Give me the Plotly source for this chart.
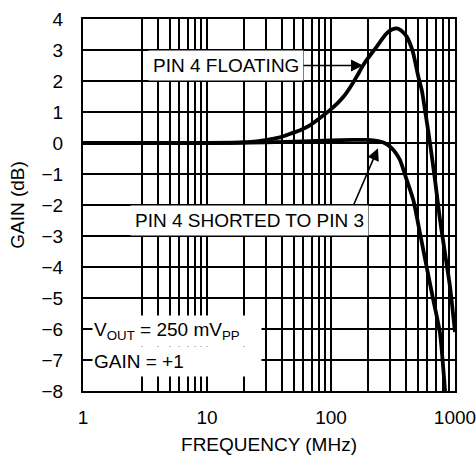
import plotly.graph_objects as go

# ---- data ----
freq_floating = [1, 10, 18, 25, 32, 40, 47, 57, 68, 80, 98, 112, 126, 143, 161, 180, 194,
                 215, 234, 258, 281, 310, 339, 370, 408, 434, 461, 506, 540, 573, 610, 649,
                 690, 757, 830, 911, 1000]
gain_floating = [0, 0, 0.01, 0.05, 0.12, 0.2, 0.3, 0.42, 0.58, 0.78, 1.06, 1.27, 1.49, 1.8,
                 2.14, 2.48, 2.68, 2.92, 3.11, 3.35, 3.54, 3.66, 3.70, 3.62, 3.43, 3.2, 2.89,
                 2.14, 1.7, 1.06, 0.35, -0.4, -1.19, -2.48, -3.55, -4.63, -6.1]

freq_shorted = [1, 10, 30, 60, 100, 150, 200, 240, 270, 300, 330, 360, 408, 461, 522, 590,
                668, 757, 830, 845]
gain_shorted = [0, 0, 0.02, 0.05, 0.08, 0.1, 0.1, 0.06, 0, -0.12, -0.3, -0.55, -1.19, -1.84,
                -2.91, -3.99, -5.06, -6.14, -7.97, -8.4]

x_label_vals = [1, 10, 100, 1000]
x_label_text = ["1", "10", "100", "1000"]
y_tick_vals = list(range(-8, 5))

FONT = "Liberation Sans, Arial, sans-serif"
FS = 19

# minor grid positions (no line at 2 in first decade)
minor_vals = list(range(3, 10)) + list(range(20, 100, 10)) + list(range(200, 1000, 100))

fig = go.Figure()
fig.add_trace(go.Scatter(x=freq_shorted, y=gain_shorted, mode="lines",
                         line=dict(color="black", width=3.8, shape="spline", smoothing=0.6),
                         showlegend=False))
fig.add_trace(go.Scatter(x=freq_floating, y=gain_floating, mode="lines",
                         line=dict(color="black", width=3.8, shape="spline", smoothing=0.6),
                         showlegend=False))

annos = [
    # label with its arrow (arrow leaves the right edge of the white box)
    dict(x=2.258, y=2.5, ax=1.153, ay=2.5, axref="x", ayref="y",
         text="PIN 4 FLOATING", showarrow=True, bgcolor="white", borderpad=4,
         font=dict(size=FS), arrowhead=2, arrowsize=1.5, arrowwidth=1.6, arrowcolor="black"),
    dict(x=1.343, y=-2.5, text="PIN 4 SHORTED TO PIN 3", showarrow=False, bgcolor="white",
         borderpad=4, font=dict(size=FS)),
    dict(x=0.07, y=-6.05, xanchor="left", text="V<sub>OUT</sub> = 250 mV<sub>PP</sub>",
         showarrow=False, bgcolor="white", width=166, height=28, align="left", borderpad=1,
         font=dict(size=FS)),
    dict(x=0.07, y=-7.0, xanchor="left", text="GAIN = +1", yshift=-1,
         showarrow=False, bgcolor="white", width=166, height=27, align="left", borderpad=1,
         font=dict(size=FS)),
    # arrow for the shorted label
    dict(x=2.379, y=-0.17, ax=2.177, ay=-2.05, axref="x", ayref="y", text="", showarrow=True,
         arrowhead=2, arrowsize=1.5, arrowwidth=1.6, arrowcolor="black"),
]
for a in annos:
    a.setdefault("xref", "x")
    a.setdefault("yref", "y")
fig.update_layout(annotations=annos)

fig.update_layout(
    width=476, height=455,
    margin=dict(l=83, r=21, t=19, b=64, autoexpand=False),
    paper_bgcolor="white", plot_bgcolor="white",
    font=dict(family=FONT, size=FS, color="black"),
    showlegend=False,
)
fig.update_xaxes(type="log", range=[0, 3], tickmode="array", tickvals=x_label_vals,
                 ticktext=x_label_text, showgrid=True, gridcolor="black", gridwidth=1.6,
                 minor=dict(tickmode="array", tickvals=minor_vals, showgrid=True,
                            gridcolor="black", gridwidth=1.6, ticks=""),
                 showline=True, linecolor="black", linewidth=2, mirror=True,
                 ticks="", ticklabelstandoff=8, automargin=True, ticklabeloverflow="allow",
                 title=dict(text="FREQUENCY (MHz)", standoff=14, font=dict(size=FS)))
fig.update_yaxes(range=[-8, 4], tickmode="array", tickvals=y_tick_vals,
                 showgrid=True, gridcolor="black", gridwidth=1.6, zeroline=False,
                 showline=True, linecolor="black", linewidth=2, mirror=True,
                 ticks="", ticklabelstandoff=14, automargin=False,
                 title=dict(text="GAIN (dB)", standoff=12, font=dict(size=FS)))

fig.write_html("out.html", config={"displayModeBar": False},
               post_script="document.body.style.margin='0';document.body.style.overflow='hidden';")
